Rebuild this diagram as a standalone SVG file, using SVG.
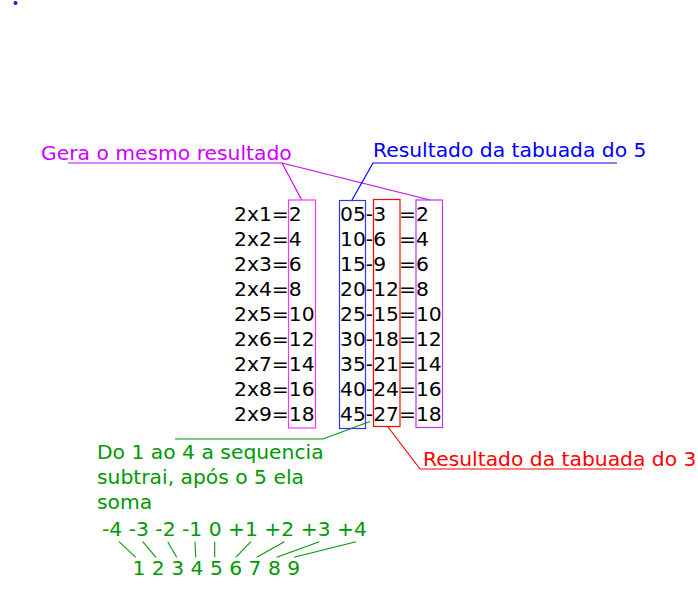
<svg xmlns="http://www.w3.org/2000/svg" width="698" height="610" viewBox="0 0 698 610">
<style>
text{font-family:"DejaVu Sans","Liberation Sans",sans-serif;font-size:20.3px;white-space:pre}
.k{fill:#000}
.g{fill:#009900}
.box{fill:none;stroke-width:1.2}
.ln{fill:none;stroke-width:1.2}
</style>
<rect width="698" height="610" fill="#fff"/>
<circle cx="15.5" cy="3" r="2" fill="#5500cc"/>
<g id="connectors">
<polyline class="ln" stroke="#cc00ff" points="301.5,199.5 282,163 68,163"/>
<line class="ln" stroke="#cc00ff" x1="282" y1="163" x2="430" y2="200"/>
<polyline class="ln" stroke="#0000ff" points="352,200 373,163 617,163"/>
<polyline class="ln" stroke="#ff0000" points="388,427 420,469 642,469"/>
<polyline class="ln" stroke="#009900" points="370,421.5 323,439 175,439"/>
<g stroke="#009900" stroke-width="1.1">
<line x1="119" y1="541.7" x2="135.7" y2="557.3"/>
<line x1="142.7" y1="541.7" x2="156" y2="557.3"/>
<line x1="167.7" y1="541.7" x2="176.7" y2="557.3"/>
<line x1="195" y1="541.7" x2="195.7" y2="557.3"/>
<line x1="214.7" y1="541.7" x2="214.7" y2="557.3"/>
<line x1="251" y1="541.7" x2="235.7" y2="557.3"/>
<line x1="284.3" y1="541.7" x2="256.7" y2="557.3"/>
<line x1="319.3" y1="541.7" x2="276.7" y2="557.3"/>
<line x1="356" y1="541.7" x2="294" y2="557.3"/>
</g>
</g>
<g id="label-gera"><text x="41" y="160" fill="#cc00ff">Gera o mesmo resultado</text></g>
<g id="label-tab5"><text x="373" y="157" fill="#0000ff">Resultado da tabuada do 5</text></g>
<g id="label-tab3"><text x="423" y="465.5" fill="#ff0000">Resultado da tabuada do 3</text></g>
<g id="label-seq" class="g">
<text x="97" y="458.5" class="g">Do 1 ao 4 a sequencia</text>
<text x="97" y="483.5" class="g">subtrai, após o 5 ela</text>
<text x="97" y="508.5" class="g">soma</text>
</g>
<g id="diffs"><text x="102" y="536" class="g">-4 -3 -2 -1 0 +1 +2 +3 +4</text></g>
<g id="indices"><text x="132.5" y="575" class="g">1 2 3 4 5 6 7 8 9</text></g>
<g id="table2">
<text x="234" y="221" class="k">2x1=2</text>
<text x="234" y="246" class="k">2x2=4</text>
<text x="234" y="271" class="k">2x3=6</text>
<text x="234" y="296" class="k">2x4=8</text>
<text x="234" y="321" class="k">2x5=10</text>
<text x="234" y="346" class="k">2x6=12</text>
<text x="234" y="371" class="k">2x7=14</text>
<text x="234" y="396" class="k">2x8=16</text>
<text x="234" y="421" class="k">2x9=18</text>
<rect id="box-pink" class="box" stroke="#ff33ff" x="288.5" y="200" width="27" height="228"/>
</g>
<g id="table53">
<text x="340" y="221" class="k">05-3  =2</text>
<text x="340" y="246" class="k">10-6  =4</text>
<text x="340" y="271" class="k">15-9  =6</text>
<text x="340" y="296" class="k">20-12=8</text>
<text x="340" y="321" class="k">25-15=10</text>
<text x="340" y="346" class="k">30-18=12</text>
<text x="340" y="371" class="k">35-21=14</text>
<text x="340" y="396" class="k">40-24=16</text>
<text x="340" y="421" class="k">45-27=18</text>
<rect id="box-blue" class="box" stroke="#3333ff" x="339.5" y="200.5" width="26" height="228"/>
<rect id="box-red" class="box" stroke="#ff0000" x="373.5" y="199.5" width="26.5" height="227"/>
<rect id="box-purple" class="box" stroke="#bb33ff" x="416" y="200" width="26.5" height="227.5"/>
</g>
</svg>
